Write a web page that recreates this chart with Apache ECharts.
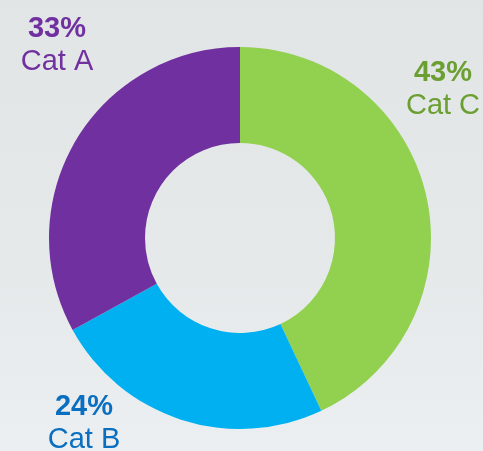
<!DOCTYPE html>
<html>
<head>
<meta charset="utf-8">
<script src="https://cdn.jsdelivr.net/npm/echarts@6/dist/echarts.min.js"></script>
<style>
html,body{margin:0;padding:0;}
body{width:483px;height:451px;background:linear-gradient(180deg,#e2e5e6 0%,#e6e9ea 60%,#eceff1 100%);}
#chart{width:483px;height:451px;}
</style>
</head>
<body>
<div id="chart"></div>
<script>
// Data
var categories = ['Cat C', 'Cat B', 'Cat A'];
var values = [43, 24, 33];
var sliceColors = ['#92d050', '#00b0f0', '#7030a0'];
var labelColors = ['#6b9f31', '#0a6fc0', '#7030a0'];
// Label block centres (layout, not data)
var labelX = [443, 84, 57];
var labelY = [89.5, 423, 45.5];

var chart = echarts.init(document.getElementById('chart'), null, {renderer: 'canvas'});
var seriesData = categories.map(function (c, i) {
  return {
    name: c,
    value: values[i],
    itemStyle: {color: sliceColors[i]},
    label: {
      rich: {
        p: {fontSize: 29, fontWeight: 'bold', color: labelColors[i], lineHeight: 33, fontFamily: 'Liberation Sans, Arial, sans-serif'},
        n: {fontSize: 29, color: labelColors[i], lineHeight: 33, fontFamily: 'Liberation Sans, Arial, sans-serif'}
      }
    }
  };
});
chart.setOption({
  animation: false,
  backgroundColor: 'transparent',
  series: [{
    type: 'pie',
    center: [240, 238],
    radius: [95, 191],
    startAngle: 90,
    clockwise: true,
    avoidLabelOverlap: false,
    emphasis: {disabled: true},
    itemStyle: {borderWidth: 0},
    label: {
      show: true,
      position: 'outside',
      formatter: '{p|{c}%}\n{n|{b}}',
      align: 'center'
    },
    labelLine: {show: false},
    labelLayout: function (params) {
      return {
        x: labelX[params.dataIndex],
        y: labelY[params.dataIndex],
        align: 'center',
        verticalAlign: 'middle'
      };
    },
    data: seriesData
  }]
});
</script>
</body>
</html>
